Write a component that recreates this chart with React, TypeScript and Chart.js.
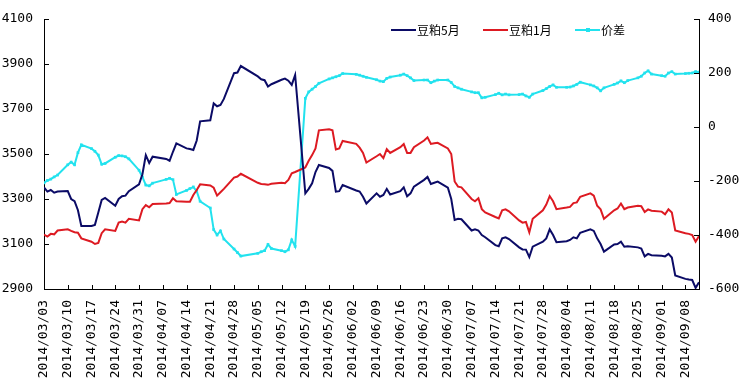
import React, { useEffect, useRef } from "react";
import { Chart, registerables } from "chart.js";
Chart.register(...registerables);

// Trading days (2014)
const dates = [
  "2014/03/03","2014/03/04","2014/03/05","2014/03/06","2014/03/07",
  "2014/03/10","2014/03/11","2014/03/12","2014/03/13","2014/03/14",
  "2014/03/17","2014/03/18","2014/03/19","2014/03/20","2014/03/21",
  "2014/03/24","2014/03/25","2014/03/26","2014/03/27","2014/03/28",
  "2014/03/31","2014/04/01","2014/04/02","2014/04/03","2014/04/04",
  "2014/04/08","2014/04/09","2014/04/10","2014/04/11",
  "2014/04/14","2014/04/15","2014/04/16","2014/04/17","2014/04/18",
  "2014/04/21","2014/04/22","2014/04/23","2014/04/24","2014/04/25",
  "2014/04/28","2014/04/29","2014/04/30",
  "2014/05/05","2014/05/06","2014/05/07","2014/05/08","2014/05/09",
  "2014/05/12","2014/05/13","2014/05/14","2014/05/15","2014/05/16",
  "2014/05/19","2014/05/20","2014/05/21","2014/05/22","2014/05/23",
  "2014/05/26","2014/05/27","2014/05/28","2014/05/29","2014/05/30",
  "2014/06/03","2014/06/04","2014/06/05","2014/06/06",
  "2014/06/09","2014/06/10","2014/06/11","2014/06/12","2014/06/13",
  "2014/06/16","2014/06/17","2014/06/18","2014/06/19","2014/06/20",
  "2014/06/23","2014/06/24","2014/06/25","2014/06/26","2014/06/27",
  "2014/06/30","2014/07/01","2014/07/02","2014/07/03","2014/07/04",
  "2014/07/07","2014/07/08","2014/07/09","2014/07/10","2014/07/11",
  "2014/07/14","2014/07/15","2014/07/16","2014/07/17","2014/07/18",
  "2014/07/21","2014/07/22","2014/07/23","2014/07/24","2014/07/25",
  "2014/07/28","2014/07/29","2014/07/30","2014/07/31","2014/08/01",
  "2014/08/04","2014/08/05","2014/08/06","2014/08/07","2014/08/08",
  "2014/08/11","2014/08/12","2014/08/13","2014/08/14","2014/08/15",
  "2014/08/18","2014/08/19","2014/08/20","2014/08/21","2014/08/22",
  "2014/08/25","2014/08/26","2014/08/27","2014/08/28","2014/08/29",
  "2014/09/01","2014/09/02","2014/09/03","2014/09/04","2014/09/05",
  "2014/09/08","2014/09/09","2014/09/10","2014/09/11","2014/09/12",
];

// 豆粕5月 (left axis)
const meal5 = [
  3352, 3333, 3340, 3328, 3333,
  3335, 3300, 3290, 3250, 3180,
  3180, 3185, 3240, 3296, 3305,
  3270, 3300, 3312, 3315, 3335,
  3365, 3410, 3495, 3460, 3488,
  3478, 3470, 3510, 3547,
  3525, 3522, 3518, 3560, 3645,
  3650, 3725, 3712, 3718, 3745,
  3859, 3862, 3891,
  3845, 3832, 3828, 3800, 3810,
  3830, 3835, 3826, 3807, 3851,
  3325, 3345, 3370, 3420, 3451,
  3438, 3425, 3333, 3335, 3362,
  3338, 3333, 3310, 3280,
  3325, 3310, 3318, 3345, 3320,
  3335, 3352, 3312, 3325, 3355,
  3385, 3398, 3367, 3372, 3377,
  3350, 3300, 3207, 3212, 3210,
  3160, 3165, 3160, 3140, 3130,
  3095, 3090, 3125, 3130, 3122,
  3085, 3076, 3075, 3042, 3088,
  3110, 3125, 3165, 3140, 3108,
  3112, 3118, 3130, 3125, 3150,
  3165, 3158, 3125, 3100, 3066,
  3098, 3100, 3110, 3088, 3090,
  3085, 3080, 3045, 3056, 3050,
  3048, 3045, 3056, 3040, 2960,
  2945, 2942, 2940, 2905, 2930,
];

// 豆粕1月 (left axis)
const meal1 = [
  3142, 3133, 3145, 3143, 3160,
  3165, 3158, 3152, 3150, 3125,
  3110, 3100, 3105, 3148, 3165,
  3158, 3195, 3200, 3195, 3212,
  3205, 3255, 3273, 3263, 3278,
  3280, 3282, 3303, 3290,
  3288, 3288, 3318, 3340, 3365,
  3360, 3350, 3315, 3330, 3345,
  3395, 3400, 3412,
  3372, 3367, 3366, 3363, 3368,
  3372, 3370, 3385, 3414, 3420,
  3440, 3470, 3495, 3525, 3605,
  3610, 3605, 3520, 3525, 3558,
  3545, 3528, 3505, 3462,
  3490, 3500, 3482, 3522, 3505,
  3530, 3544, 3505, 3505, 3530,
  3560, 3574, 3545, 3548, 3550,
  3525, 3500, 3378, 3355, 3352,
  3300, 3290, 3303, 3255, 3240,
  3220, 3214, 3250, 3254, 3245,
  3205, 3195, 3198, 3152, 3212,
  3250, 3275, 3313, 3290, 3255,
  3262, 3265, 3282, 3285, 3310,
  3325, 3315, 3270, 3254, 3212,
  3250, 3258, 3280, 3255, 3262,
  3270, 3268, 3242, 3254, 3248,
  3244, 3232, 3254, 3240, 3160,
  3148, 3145, 3140, 3110, 3135,
];

// 价差 (right axis)
const spread = [
  -207, -198, -193, -185, -178,
  -140, -130, -140, -95, -66,
  -80, -90, -104, -138, -135,
  -112, -106, -107, -110, -118,
  -160, -185, -215, -218, -208,
  -194, -190, -195, -250,
  -235, -228, -222, -238, -275,
  -300, -380, -400, -385, -415,
  -452, -465, -478,
  -468, -462, -458, -435, -450,
  -458, -462, -455, -418, -442,
  106, 130, 140, 150, 162,
  178, 182, 186, 190, 198,
  195, 192, 188, 184,
  175, 170, 168, 180, 185,
  192, 196, 190, 182, 172,
  174, 174, 164, 170, 174,
  174, 165, 150, 145, 140,
  130, 127, 127, 108, 110,
  120, 125, 119, 122, 119,
  120, 122, 115, 110, 122,
  135, 142, 150, 156, 147,
  147, 148, 152, 158, 166,
  156, 152, 145, 134, 145,
  158, 163, 171, 164, 172,
  182, 188, 200, 208, 196,
  190, 188, 200, 205, 196,
  198, 199, 200, 205, 203,
];

const leftRange = [2900, 4100];
const rightRange = [-600, 400];
const tickStep = 200;
const weekStep = 7;

const BASE = Date.UTC(2014, 2, 3);
const DAY = 86400000;
const dayIndex = (s: string) => {
  const [y, m, d] = s.split("/").map(Number);
  return Math.round((Date.UTC(y, m - 1, d) - BASE) / DAY);
};
const pad = (n: number) => (n < 10 ? "0" + n : "" + n);
const dayLabel = (v: number) => {
  const dt = new Date(BASE + v * DAY);
  return `${dt.getUTCFullYear()}/${pad(dt.getUTCMonth() + 1)}/${pad(dt.getUTCDate())}`;
};

const tickFont = { family: "'DejaVu Sans Mono', monospace", size: 13 };

const inwardTicks = {
  id: "inwardTicks",
  afterDraw(chart: any) {
    const { ctx, chartArea } = chart;
    ctx.save();
    ctx.strokeStyle = "#000";
    ctx.lineWidth = 1;
    ctx.beginPath();
    const sy = chart.scales.y;
    sy.ticks.forEach((t: any) => {
      const p = Math.round(sy.getPixelForValue(t.value)) + 0.5;
      ctx.moveTo(chartArea.left, p);
      ctx.lineTo(chartArea.left + 5, p);
    });
    const sy1 = chart.scales.y1;
    sy1.ticks.forEach((t: any) => {
      const p = Math.round(sy1.getPixelForValue(t.value)) + 0.5;
      ctx.moveTo(chartArea.right, p);
      ctx.lineTo(chartArea.right - 5, p);
    });
    const sx = chart.scales.x;
    sx.ticks.forEach((t: any) => {
      const p = Math.round(sx.getPixelForValue(t.value)) + 0.5;
      ctx.moveTo(p, chartArea.bottom);
      ctx.lineTo(p, chartArea.bottom - 4);
    });
    ctx.stroke();
    ctx.restore();
  },
};

const customLegend = {
  id: "customLegend",
  afterDraw(chart: any) {
    const { ctx, chartArea } = chart;
    const x0 = chartArea.left + 347;
    const y = chartArea.top + 11;
    chart.data.datasets.forEach((ds: any, i: number) => {
      const x = x0 + i * 92;
      ctx.save();
      ctx.strokeStyle = ds.borderColor;
      ctx.lineWidth = 2;
      ctx.beginPath();
      ctx.moveTo(x, y);
      ctx.lineTo(x + 25, y);
      ctx.stroke();
      if (ds.pointRadius > 0) {
        ctx.fillStyle = ds.borderColor;
        ctx.fillRect(x + 11, y - 2, 4, 4);
      }
      ctx.fillStyle = "#000";
      ctx.font = "12px 'Noto Sans CJK SC', sans-serif";
      ctx.textBaseline = "middle";
      ctx.textAlign = "left";
      ctx.fillText(ds.label, x + 26, y);
      ctx.restore();
    });
  },
};

export default function App() {
  const ref = useRef<HTMLCanvasElement>(null);
  useEffect(() => {
    document.body.style.margin = "0";
    const xs = dates.map(dayIndex);
    const chart = new Chart(ref.current!, {
      type: "line",
      data: {
        datasets: [
          {
            label: "豆粕5月",
            data: xs.map((x, i) => ({ x, y: meal5[i] })),
            borderColor: "#0B0B66",
            backgroundColor: "#0B0B66",
            borderWidth: 2,
            pointRadius: 0,
            yAxisID: "y",
            tension: 0,
          },
          {
            label: "豆粕1月",
            data: xs.map((x, i) => ({ x, y: meal1[i] })),
            borderColor: "#DD1A22",
            backgroundColor: "#DD1A22",
            borderWidth: 2,
            pointRadius: 0,
            yAxisID: "y",
            tension: 0,
          },
          {
            label: "价差",
            data: xs.map((x, i) => ({ x, y: spread[i] })),
            borderColor: "#22E2EE",
            backgroundColor: "#22E2EE",
            borderWidth: 2,
            pointRadius: 1.9,
            pointStyle: "rect",
            pointBorderWidth: 0,
            yAxisID: "y1",
            tension: 0,
          },
        ],
      },
      options: {
        animation: false,
        responsive: false,
        maintainAspectRatio: false,
        layout: { padding: { top: 19, left: 0, right: 0, bottom: 0 } },
        plugins: { legend: { display: false }, tooltip: { enabled: false } },
        scales: {
          x: {
            type: "linear",
            min: 0,
            max: dayIndex(dates[dates.length - 1]),
            grid: { display: true, drawOnChartArea: false, drawTicks: false },
            border: { display: true, color: "#000", width: 1 },
            ticks: {
              stepSize: weekStep,
              includeBounds: false,
              autoSkip: false,
              minRotation: 90,
              maxRotation: 90,
              padding: 11,
              color: "#000",
              font: tickFont,
              callback: (v: any) => dayLabel(Number(v)),
            },
            afterFit: (s: any) => {
              s.height = 90;
            },
          },
          y: {
            position: "left",
            min: leftRange[0],
            max: leftRange[1],
            grid: { display: true, drawOnChartArea: false, drawTicks: false },
            border: { display: true, color: "#000", width: 1 },
            ticks: {
              stepSize: tickStep,
              color: "#000",
              font: tickFont,
              padding: 11,
              callback: (v: any) => String(v),
            },
            afterFit: (s: any) => {
              s.width = 44;
            },
          },
          y1: {
            position: "right",
            min: rightRange[0],
            max: rightRange[1],
            grid: { display: true, drawOnChartArea: false, drawTicks: false },
            border: { display: true, color: "#000", width: 1 },
            ticks: {
              stepSize: tickStep,
              color: "#000",
              font: tickFont,
              padding: 9,
              callback: (v: any) => String(v),
            },
            afterFit: (s: any) => {
              s.width = 50;
            },
          },
        },
      },
      plugins: [inwardTicks, customLegend],
    });
    return () => chart.destroy();
  }, []);
  return (
    <div style={{ position: "absolute", left: 0, top: 0, width: 749, height: 379, background: "#fff" }}>
      <canvas ref={ref} width={749} height={379} />
    </div>
  );
}
